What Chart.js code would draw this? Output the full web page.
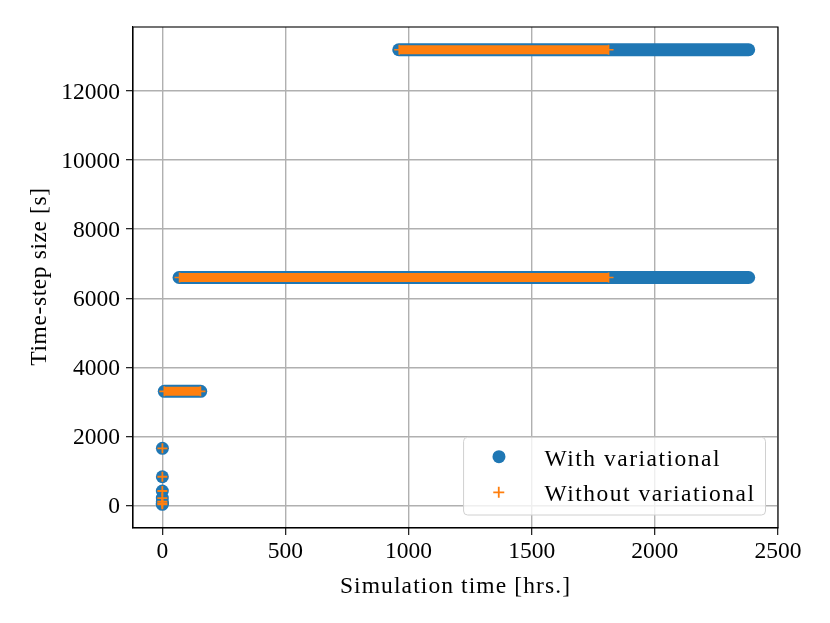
<!DOCTYPE html>
<html><head><meta charset="utf-8">
<script src="https://cdn.jsdelivr.net/npm/chart.js@4.4.1/dist/chart.umd.min.js"></script>
<style>html,body{margin:0;padding:0;background:#fff}#wrap{width:830px;height:623px;position:relative}</style>
</head><body><div id="wrap"><canvas id="c"></canvas></div>
<script>
const seriesNames = ['With variational', 'Without variational'];
const xTitle = 'Simulation time [hrs.]';
const yTitle = 'Time-step size [s]';
const xTickValues = [0, 500, 1000, 1500, 2000, 2500];
const yTickValues = [0, 2000, 4000, 6000, 8000, 10000, 12000];
// step-size plateaus (s) and the simulation-time spans (hrs.) over which they are held
const levels = [3300, 6600, 13200];
const withStart = [8, 68, 960];
const withEnd = [156, 2381, 2381];
const withoutStart = [8, 70, 962];
const withoutEnd = [155, 1812, 1812];
// initial ramp-up steps near t = 0
const rampTimes = [0, 0.007, 0.02, 0.05, 0.1, 0.2, 0.45];
const rampSteps = [25.8, 51.6, 103.1, 206.3, 412.5, 825, 1650];

const BLUE = '#1f77b4', ORANGE = '#ff7f0e';
const FONT = "'Liberation Serif', 'Times New Roman', serif";

const datasets = [];
levels.forEach((lv, i) => {
  datasets.push({
    label: seriesNames[1], order: 0, showLine: true,
    data: [{x: withoutStart[i], y: lv}, {x: withoutEnd[i], y: lv}],
    borderColor: ORANGE, borderWidth: 9, borderCapStyle: 'butt',
    pointStyle: 'cross', pointRadius: 5, pointBorderWidth: 1.6,
    pointBorderColor: ORANGE, pointBackgroundColor: ORANGE
  });
  datasets.push({
    label: seriesNames[0], order: 2, showLine: true,
    data: [{x: withStart[i], y: lv}, {x: withEnd[i], y: lv}],
    borderColor: BLUE, borderWidth: 13, borderCapStyle: 'round',
    pointRadius: 0
  });
});
datasets.push({
  label: seriesNames[1], order: 0,
  data: rampTimes.map((t, i) => ({x: t, y: rampSteps[i]})),
  pointStyle: 'cross', pointRadius: 5, pointBorderWidth: 1.8,
  pointBorderColor: ORANGE, pointBackgroundColor: ORANGE
});
datasets.push({
  label: seriesNames[0], order: 2,
  data: rampTimes.map((t, i) => ({x: t, y: rampSteps[i]})),
  pointStyle: 'circle', pointRadius: 6.5, pointBorderWidth: 0,
  pointBackgroundColor: BLUE, pointBorderColor: BLUE
});

const decor = {
  id: 'decor',
  afterDraw(chart) {
    const {ctx, chartArea: a} = chart;
    ctx.save();
    // frame
    ctx.strokeStyle = '#000'; ctx.lineWidth = 1.1;
    ctx.strokeRect(a.left, a.top, a.right - a.left, a.bottom - a.top);
    // axis titles
    ctx.fillStyle = '#000';
    ctx.font = '23.5px ' + FONT;
    ctx.textBaseline = 'alphabetic';
    ctx.textAlign = 'center';
    ctx.letterSpacing = '1.1px';
    ctx.fillText(xTitle, (a.left + a.right) / 2, 593);
    ctx.save();
    ctx.letterSpacing = '0.6px';
    ctx.translate(46, (a.top + a.bottom) / 2 - 1);
    ctx.rotate(-Math.PI / 2);
    ctx.fillText(yTitle, 0, 0);
    ctx.restore();
    // legend
    ctx.letterSpacing = '1.5px';
    ctx.textAlign = 'left';
    const tw = Math.max(...seriesNames.map(s => ctx.measureText(s).width));
    const bw = 81 + tw + 10, bh = 77.7;
    const bx = a.right - 12.5 - bw, by = a.bottom - 13 - bh;
    ctx.beginPath();
    ctx.roundRect(bx, by, bw, bh, 4);
    ctx.fillStyle = 'rgba(255,255,255,0.8)';
    ctx.fill();
    ctx.strokeStyle = '#d0d0d0'; ctx.lineWidth = 1;
    ctx.stroke();
    // markers
    ctx.fillStyle = BLUE;
    ctx.beginPath(); ctx.arc(bx + 35.4, by + 19.4, 6.5, 0, Math.PI * 2); ctx.fill();
    ctx.strokeStyle = ORANGE; ctx.lineWidth = 1.8;
    const cx = bx + 35.2, cy = by + 55;
    ctx.beginPath();
    ctx.moveTo(cx - 5.5, cy); ctx.lineTo(cx + 5.5, cy);
    ctx.moveTo(cx, cy - 5.5); ctx.lineTo(cx, cy + 5.5);
    ctx.stroke();
    ctx.fillStyle = '#000';
    ctx.fillText(seriesNames[0], bx + 81, by + 28.4);
    ctx.fillText(seriesNames[1], bx + 81, by + 63.7);
    ctx.restore();
  }
};

new Chart(document.getElementById('c'), {
  type: 'scatter',
  data: {datasets},
  plugins: [decor],
  options: {
    responsive: true, maintainAspectRatio: false, animation: false,
    devicePixelRatio: 1,
    layout: {padding: {top: 27, right: 52, left: 0, bottom: 0}},
    plugins: {legend: {display: false}, tooltip: {enabled: false}},
    scales: {
      x: {
        type: 'linear', min: -119, max: 2500,
        afterFit: s => { s.height = 95; },
        afterBuildTicks: s => { s.ticks = xTickValues.map(v => ({value: v})); },
        grid: {color: '#b0b0b0', lineWidth: 1.4, tickColor: '#000', tickWidth: 1.1, tickLength: 7},
        border: {color: '#000', width: 1.1},
        ticks: {color: '#000', font: {family: FONT, size: 23.5}, padding: 3, maxRotation: 0,
                callback: v => String(v)}
      },
      y: {
        type: 'linear', min: -660, max: 13860,
        afterFit: s => { s.width = 133; },
        afterBuildTicks: s => { s.ticks = yTickValues.map(v => ({value: v})); },
        grid: {color: '#b0b0b0', lineWidth: 1.4, tickColor: '#000', tickWidth: 1.1, tickLength: 7},
        border: {color: '#000', width: 1.1},
        ticks: {color: '#000', font: {family: FONT, size: 23.5}, padding: 6, labelOffset: 2,
                callback: v => String(v)}
      }
    }
  }
});
</script>
</body></html>
